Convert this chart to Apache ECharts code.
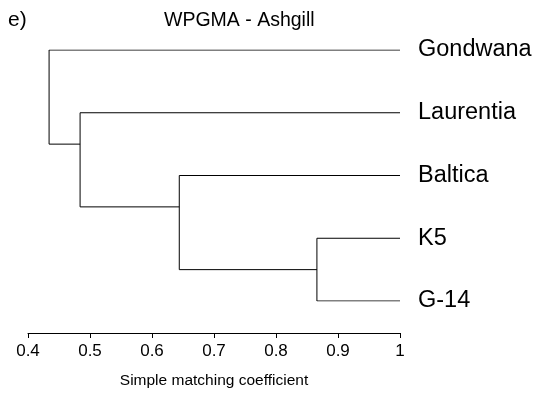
<!DOCTYPE html>
<html>
<head>
<meta charset="utf-8">
<script src="https://cdn.jsdelivr.net/npm/echarts@6/dist/echarts.min.js"></script>
<style>
  html, body { margin: 0; padding: 0; background: #fff; }
  #chart { width: 539px; height: 394px; }
</style>
</head>
<body>
<div id="chart"></div>
<script>
// leaves, top to bottom (position 1..5)
const leafNames = ["Gondwana", "Laurentia", "Baltica", "K5", "G-14"];
const leafHeight = 1;

// merges: children refer to leaf positions (numbers) or earlier merges ("m0", "m1", ...)
const mergeChildren = [
  [4, 5],
  [3, "m0"],
  [2, "m1"],
  [1, "m2"],
];
const mergeHeights = [0.866, 0.644, 0.484, 0.434];
// vertical position where each merge's stub leaves it
const mergePositions = [4.5, 3.5, 2.5, 1.5];

const xTicks = [0.4, 0.5, 0.6, 0.7, 0.8, 0.9, 1];

const font = "Liberation Sans, Arial, Helvetica, sans-serif";

const chart = echarts.init(document.getElementById("chart"));

// resolve a child to its [x, y]
function childPoint(c) {
  if (typeof c === "number") return [leafHeight, c];
  const i = Number(c.slice(1));
  return [mergeHeights[i], mergePositions[i]];
}

// each merge drawn as a bracket: childA -> node -> childB
const series = mergeChildren.map((pair, i) => {
  const a = childPoint(pair[0]);
  const b = childPoint(pair[1]);
  const h = mergeHeights[i];
  return {
    type: "line",
    data: [a, [h, a[1]], [h, b[1]], b],
    symbol: "none",
    silent: true,
    animation: false,
    lineStyle: { color: "#000", width: 1 },
  };
});

const option = {
  backgroundColor: "#fff",
  title: [
    {
      text: "e)",
      left: 3,
      top: 5,
      textStyle: { fontFamily: font, fontSize: 21, fontWeight: "normal", color: "#000" },
    },
    {
      text: "WPGMA - Ashgill",
      left: 159,
      top: 6,
      textStyle: { fontFamily: font, fontSize: 19.5, fontWeight: "normal", color: "#000" },
    },
  ],
  grid: {
    left: 28,
    top: 50,
    width: 372,
    height: 253,
  },
  xAxis: {
    type: "value",
    min: 0.4,
    max: 1,
    interval: 0.1,
    offset: 32,
    name: "Simple matching coefficient",
    nameLocation: "middle",
    nameGap: 40,
    nameTextStyle: { fontFamily: font, fontSize: 15.5, color: "#000" },
    axisLine: { show: true, lineStyle: { color: "#000", width: 1 } },
    axisTick: { show: true, length: 5, lineStyle: { color: "#000" } },
    axisLabel: {
      fontFamily: font,
      fontSize: 17,
      color: "#000",
      margin: 10,
      formatter: (v) => {
        const t = xTicks.find((x) => Math.abs(x - v) < 1e-9);
        return t === undefined ? "" : String(t);
      },
    },
    splitLine: { show: false },
  },
  yAxis: {
    type: "value",
    inverse: true,
    min: 1,
    max: 5,
    interval: 1,
    position: "right",
    axisLine: { show: false },
    axisTick: { show: false },
    splitLine: { show: false },
    axisLabel: {
      fontFamily: font,
      fontSize: 23.5,
      color: "#000",
      margin: 18,
      formatter: (v) => leafNames[v - 1] || "",
    },
  },
  series: series,
};

chart.setOption(option);
</script>
</body>
</html>
